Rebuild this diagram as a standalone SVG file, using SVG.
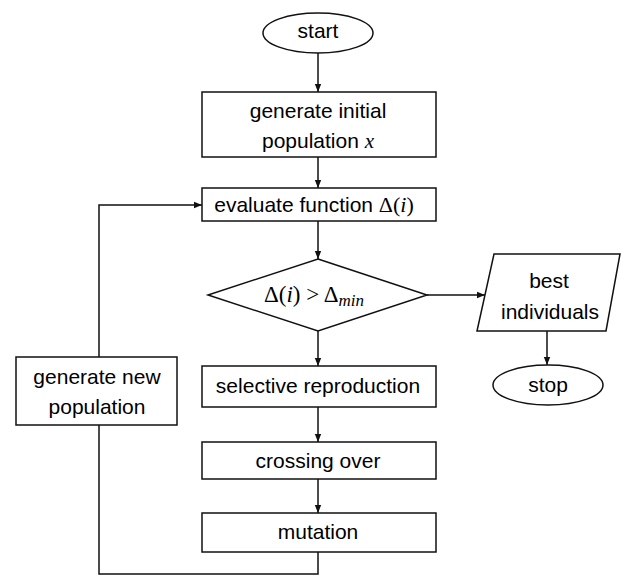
<svg xmlns="http://www.w3.org/2000/svg" width="621" height="576" viewBox="0 0 621 576">
<style>
.shape{fill:#fff;stroke:#111;stroke-width:1.5}
.conn{fill:none;stroke:#111;stroke-width:1.5}
.t{font-family:"Liberation Sans",Arial,sans-serif;font-size:21px;fill:#000;text-anchor:middle}
.m{font-family:"Liberation Serif","Times New Roman",serif}
.mi{font-family:"Liberation Serif","Times New Roman",serif;font-style:italic}
</style>
<defs>
<marker id="ah" markerUnits="userSpaceOnUse" markerWidth="8" markerHeight="8" viewBox="0 0 8 8" refX="8" refY="4" orient="auto">
<path d="M0,0.8 L8,4 L0,7.2 Z" fill="#111"/>
</marker>
</defs>
<rect width="621" height="576" fill="#fff"/>
<g id="connectors">
<line class="conn" x1="318" y1="53" x2="318" y2="92" marker-end="url(#ah)"/>
<line class="conn" x1="318" y1="157" x2="318" y2="188" marker-end="url(#ah)"/>
<line class="conn" x1="318" y1="221" x2="318" y2="259" marker-end="url(#ah)"/>
<line class="conn" x1="318" y1="331" x2="318" y2="366" marker-end="url(#ah)"/>
<line class="conn" x1="318" y1="407" x2="318" y2="442" marker-end="url(#ah)"/>
<line class="conn" x1="318" y1="479" x2="318" y2="513" marker-end="url(#ah)"/>
<line class="conn" x1="427" y1="295" x2="485" y2="295" marker-end="url(#ah)"/>
<line class="conn" x1="547" y1="331" x2="547" y2="365" marker-end="url(#ah)"/>
<polyline class="conn" points="318,552 318,574 99,574 99,425"/>
<polyline class="conn" points="99,357 99,205 202,205" marker-end="url(#ah)"/>
</g>
<g id="start">
<ellipse class="shape" cx="318" cy="33" rx="55" ry="20"/>
<text class="t" x="318" y="38">start</text>
</g>
<g id="init">
<rect class="shape" x="202" y="92" width="234" height="65"/>
<text class="t" x="318" y="118">generate initial</text>
<text class="t" x="318" y="148">population <tspan class="mi">x</tspan></text>
</g>
<g id="evaluate">
<rect class="shape" x="202" y="188" width="234" height="33"/>
<text class="t" x="314" y="212">evaluate function <tspan class="m" font-size="22">Δ(</tspan><tspan class="mi" font-size="22">i</tspan><tspan class="m" font-size="22">)</tspan></text>
</g>
<g id="decision">
<polygon class="shape" points="318,259 427,295 318,331 208,295"/>
<text class="m" x="264" y="302" font-size="23" fill="#000">Δ(<tspan class="mi">i</tspan>) &gt; Δ<tspan class="mi" font-size="17" dy="4">min</tspan></text>
</g>
<g id="best">
<polygon class="shape" points="494,254 620,254 606,331 477,331"/>
<text class="t" x="549" y="288">best</text>
<text class="t" x="550" y="319">individuals</text>
</g>
<g id="stop">
<ellipse class="shape" cx="548" cy="385" rx="55" ry="20"/>
<text class="t" x="548" y="392">stop</text>
</g>
<g id="selective">
<rect class="shape" x="202" y="366" width="234" height="41"/>
<text class="t" x="318" y="393">selective reproduction</text>
</g>
<g id="crossing">
<rect class="shape" x="202" y="442" width="234" height="37"/>
<text class="t" x="318" y="468">crossing over</text>
</g>
<g id="mutation">
<rect class="shape" x="202" y="513" width="234" height="39"/>
<text class="t" x="318" y="539">mutation</text>
</g>
<g id="newpop">
<rect class="shape" x="16" y="357" width="161" height="68"/>
<text class="t" x="97" y="384">generate new</text>
<text class="t" x="97" y="414">population</text>
</g>
</svg>
